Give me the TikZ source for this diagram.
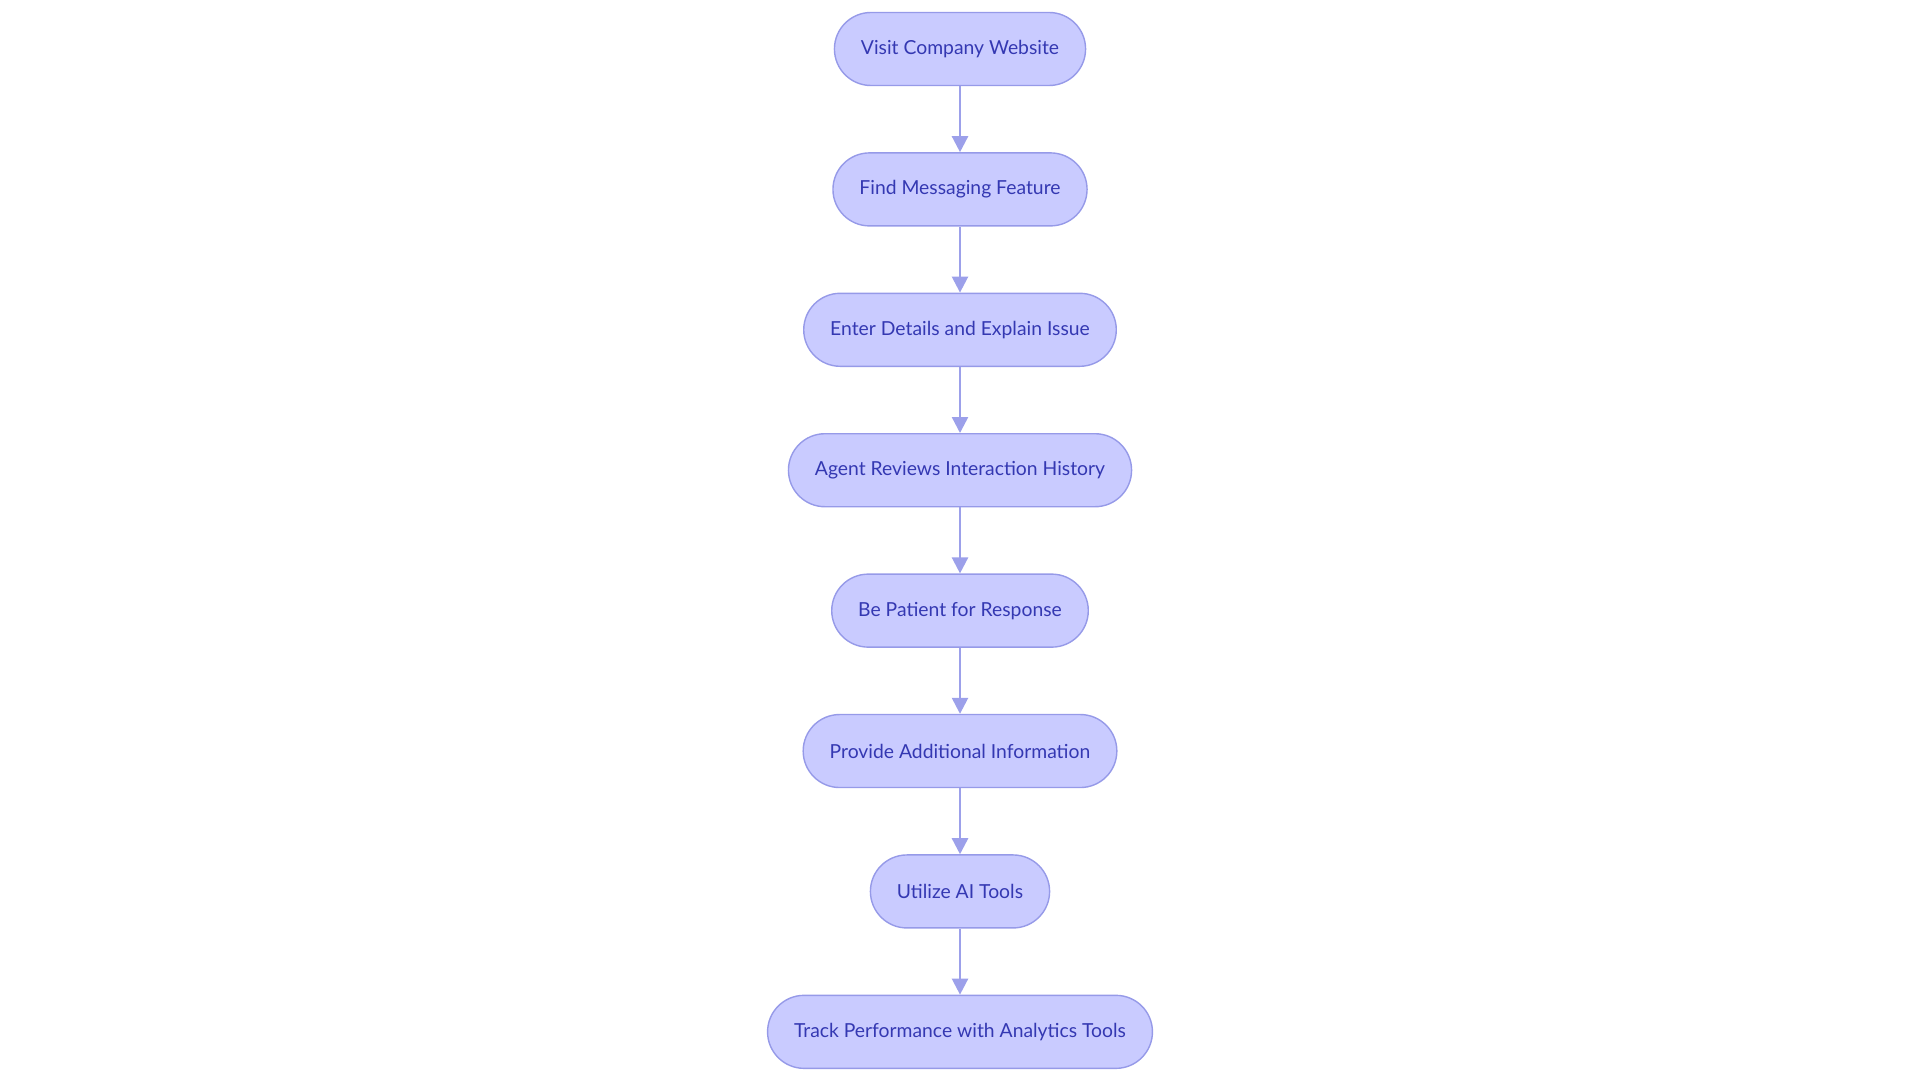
\documentclass[tikz,border=0pt]{standalone}
\usepackage{fontspec}
\setmainfont{Lato}
\usetikzlibrary{positioning,arrows.meta}
\definecolor{nodefill}{RGB}{201,203,255}
\definecolor{nodeline}{RGB}{150,154,232}
\definecolor{nodetext}{RGB}{52,56,178}
\definecolor{arrline}{RGB}{156,160,234}
\tikzset{
  stepbox/.style={draw=nodeline, thick, fill=nodefill, rounded corners=0.73cm,
              minimum height=1.46cm, inner xsep=0.53cm, text=nodetext,
              font=\fontsize{11}{13}\selectfont},
  arr/.style={-{Triangle[length=0.32cm, width=0.32cm]}, line width=1.4pt, draw=arrline},
}
\begin{document}
\begin{tikzpicture}[node distance=1.32cm]
  \useasboundingbox (0,0) rectangle (38.4,-21.66);

  % the steps, top to bottom
  \node[stepbox] (visit) at (19.2,-0.98) {Visit Company Website};
  \node[stepbox, below=of visit]   (find)    {Find Messaging Feature};
  \node[stepbox, below=of find]    (enter)   {Enter Details and Explain Issue};
  \node[stepbox, below=of enter]   (agent)   {Agent Reviews Interaction History};
  \node[stepbox, below=of agent]   (patient) {Be Patient for Response};
  \node[stepbox, below=of patient] (provide) {Provide Additional Information};
  \node[stepbox, below=of provide] (utilize) {Utilize AI Tools};
  \node[stepbox, below=of utilize] (track)   {Track Performance with Analytics Tools};

  % connectors
  \draw[arr] (visit) -- (find);
  \draw[arr] (find) -- (enter);
  \draw[arr] (enter) -- (agent);
  \draw[arr] (agent) -- (patient);
  \draw[arr] (patient) -- (provide);
  \draw[arr] (provide) -- (utilize);
  \draw[arr] (utilize) -- (track);
\end{tikzpicture}
\end{document}
